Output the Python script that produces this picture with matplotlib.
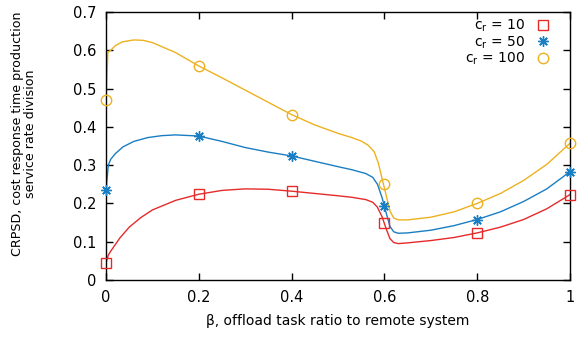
import matplotlib
matplotlib.use("Agg")
import matplotlib.pyplot as plt

plt.rcParams['font.family'] = ['DejaVu Sans']

# marker positions
x_marks = [0.0, 0.2, 0.4, 0.6, 0.8, 1.0]
red_marks = [0.045, 0.224, 0.232, 0.148, 0.123, 0.223]
blue_marks = [0.234, 0.376, 0.324, 0.193, 0.158, 0.283]
yellow_marks = [0.471, 0.559, 0.432, 0.250, 0.200, 0.357]

# curves
red_cx = [0.0, 0.005, 0.01, 0.03, 0.05, 0.075, 0.1, 0.15, 0.2, 0.25, 0.3, 0.35, 0.4, 0.45,
          0.5, 0.53, 0.56, 0.575, 0.585, 0.595, 0.605, 0.612, 0.62, 0.63, 0.65, 0.7, 0.75,
          0.8, 0.85, 0.9, 0.95, 1.0]
red_cy = [0.045, 0.065, 0.075, 0.11, 0.138, 0.163, 0.183, 0.208, 0.224, 0.234, 0.238, 0.237,
          0.232, 0.226, 0.220, 0.216, 0.210, 0.203, 0.190, 0.165, 0.130, 0.108, 0.098, 0.095,
          0.097, 0.103, 0.111, 0.123, 0.138, 0.158, 0.186, 0.223]

blue_cx = [0.0, 0.005, 0.01, 0.02, 0.037, 0.06, 0.09, 0.12, 0.15, 0.2, 0.25, 0.3, 0.35, 0.4,
           0.45, 0.5, 0.53, 0.56, 0.575, 0.585, 0.595, 0.605, 0.612, 0.62, 0.63, 0.65, 0.7,
           0.75, 0.8, 0.85, 0.9, 0.95, 1.0]
blue_cy = [0.234, 0.300, 0.315, 0.330, 0.348, 0.362, 0.372, 0.377, 0.379, 0.376, 0.362, 0.346,
           0.334, 0.324, 0.310, 0.296, 0.288, 0.278, 0.268, 0.250, 0.215, 0.170, 0.140, 0.126,
           0.122, 0.123, 0.130, 0.142, 0.158, 0.178, 0.205, 0.238, 0.283]

yellow_cx = [0.0, 0.004, 0.01, 0.02, 0.035, 0.06, 0.08, 0.1, 0.15, 0.2, 0.25, 0.3, 0.35, 0.4,
             0.45, 0.5, 0.53, 0.55, 0.565, 0.578, 0.587, 0.595, 0.605, 0.612, 0.62, 0.63,
             0.65, 0.7, 0.75, 0.8, 0.85, 0.9, 0.95, 1.0]
yellow_cy = [0.471, 0.595, 0.600, 0.612, 0.622, 0.627, 0.626, 0.620, 0.594, 0.559, 0.528, 0.496,
             0.464, 0.432, 0.405, 0.383, 0.372, 0.363, 0.352, 0.335, 0.305, 0.265, 0.215,
             0.180, 0.162, 0.157, 0.157, 0.164, 0.178, 0.200, 0.226, 0.260, 0.302, 0.357]

labels = [r'c$_\mathregular{r}$ = 10', r'c$_\mathregular{r}$ = 50', r'c$_\mathregular{r}$ = 100']
colors = ['#e62a2a', '#1a7ec2', '#edb120']

fig = plt.figure(figsize=(5.81, 3.43), dpi=100)
ax = fig.add_axes([106/581, 63/343, 464/581, 268/343])

curves = [(red_cx, red_cy), (blue_cx, blue_cy), (yellow_cx, yellow_cy)]
marks = [red_marks, blue_marks, yellow_marks]
markers = ['s', (8, 2, 0), 'o']
handles = []
for (cx, cy), my, mk, col, lab in zip(curves, marks, markers, colors, labels):
    ax.plot(cx, cy, color=col, lw=1.0, zorder=2)
    h, = ax.plot(x_marks, my, linestyle='none', marker=mk, markersize=7.5,
                 markerfacecolor='none', markeredgecolor=col, markeredgewidth=1.0,
                 label=lab, clip_on=False, zorder=3)
    handles.append(h)

ax.set_xlim(0, 1)
ax.set_ylim(0, 0.7)
ax.set_xticks([0, 0.2, 0.4, 0.6, 0.8, 1.0])
ax.set_xticklabels(['0', '0.2', '0.4', '0.6', '0.8', '1'])
ax.set_yticks([0, 0.1, 0.2, 0.3, 0.4, 0.5, 0.6, 0.7])
ax.set_yticklabels(['0', '0.1', '0.2', '0.3', '0.4', '0.5', '0.6', '0.7'])
ax.tick_params(direction='in', top=True, right=True, length=5, width=1,
               labelsize=10.5, pad=7)
for s in ax.spines.values():
    s.set_linewidth(1.0)

ax.set_xlabel('β, offload task ratio to remote system', fontsize=10, labelpad=7)
fig.text(24/581, 1 - 134/343, 'CRPSD, cost response time production\nservice rate division',
         rotation=90, ha='center', va='center', fontsize=9.1, linespacing=1.05,
         multialignment='center')

leg = ax.legend(handles=handles, loc='upper right', frameon=False, markerfirst=False,
                fontsize=10, handlelength=1.0, handletextpad=0.8, labelspacing=0.0,
                borderaxespad=0.0, borderpad=0.0, bbox_to_anchor=(0.957, 0.978))

fig.savefig('out.png', dpi=100)
